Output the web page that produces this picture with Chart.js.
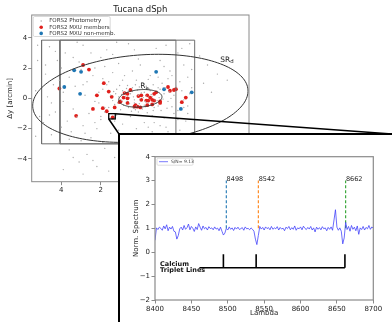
<!DOCTYPE html>
<html>
<head>
<meta charset="utf-8">
<script src="https://cdn.jsdelivr.net/npm/chart.js@4.4.1/dist/chart.umd.min.js"></script>
<style>
  html, body { margin: 0; padding: 0; background: #fff; }
  #page { position: relative; width: 392px; height: 322px; overflow: hidden; }
  #mainChart { position: absolute; left: 0; top: 0; }
  #insetBox { position: absolute; left: 118px; top: 133px; width: 274px; height: 189px; box-sizing: border-box;
              border-left: 2px solid #000; border-top: 2px solid #000; background: #fff; }
  #insetChart { display: block; }
</style>
</head>
<body>
<div id="page">
  <canvas id="mainChart" width="392" height="322"></canvas>
  <div id="insetBox"><canvas id="insetChart" width="272" height="187"></canvas></div>
</div>
<script>
// ---- Tucana dSph field (offsets in arcmin) ----
const photometry = [
  [0.1,0.2],[0.3,-0.1],[-0.2,0.4],[0.5,0.3],[-0.4,-0.3],[0.7,-0.2],[-0.6,0.1],[0.2,-0.5],[-0.1,-0.7],[0.9,0.5],
  [-0.9,-0.5],[1.1,0.1],[-1.2,0.3],[0.4,0.7],[-0.3,0.8],[0.6,-0.6],[-0.7,-0.6],[1.3,-0.4],[-1.4,-0.2],[0.0,0.0],
  [0.15,0.55],[-0.45,0.6],[0.85,-0.45],[-0.85,0.45],[1.0,-0.75],[-1.05,-0.8],[0.35,0.1],[-0.25,-0.2],[0.55,-0.35],[-0.55,0.25],
  [0.75,0.15],[-0.75,-0.1],[1.2,0.6],[-1.25,0.7],[0.05,-0.35],[-0.05,0.35],[0.45,-0.85],[-0.35,-0.95],[0.25,0.9],[-0.15,1.0],
  [1.5,0.2],[-1.55,0.0],[1.6,-0.6],[-1.6,-0.55],[0.65,0.85],[-0.65,0.9],[0.95,-0.15],[-0.95,0.05],[1.35,0.45],[-1.35,-0.65],
  [0.3,-0.3],[-0.3,0.15],[0.8,0.35],[-0.8,-0.3],[0.1,-0.9],[-0.1,0.65],[1.05,0.85],[-1.1,1.0],[0.6,0.5],[-0.5,-0.45],
  [1.7,0.9],[-1.8,0.8],[1.8,-0.9],[-1.7,-1.0],[0.2,1.2],[-0.4,1.25],[0.5,-1.2],[-0.6,-1.15],[1.2,-1.1],[-1.2,-1.3],
  [0.4,0.45],[-0.2,-0.45],[0.7,0.65],[-0.9,0.7],[1.15,-0.3],[-1.15,-0.05],[0.25,-0.75],[-0.5,0.5],[0.95,0.25],[-0.65,-0.8],
  [1.4,-0.15],[-1.45,0.45],[0.05,0.75],[-0.25,-0.55],[0.55,0.05],[-0.85,-0.15],[1.25,0.3],[-1.0,0.6],[0.35,-0.65],[-0.15,0.05],
  [2.1,0.4],[-2.1,0.5],[2.3,-0.2],[-2.2,-0.6],[1.9,1.3],[-1.6,1.5],[2.0,-1.2],[-1.9,-1.4],[0.8,1.5],[-0.7,-1.6],
  [4.6,3.4],[3.8,3.0],[2.9,3.5],[1.7,3.2],[0.6,3.6],[-0.8,3.3],[-1.9,3.0],[-2.5,3.6],[4.2,2.5],[3.1,2.4],
  [2.0,2.7],[1.1,2.3],[0.1,2.6],[-1.0,2.5],[-2.2,2.2],[4.8,1.6],[3.6,1.4],[2.4,1.5],[1.4,1.7],[0.4,1.8],
  [-0.5,1.5],[-1.5,1.8],[-2.4,1.4],[4.4,0.9],[3.3,0.8],[2.7,1.1],[1.9,0.6],[-2.0,1.1],[-2.6,0.7],[4.7,0.1],
  [3.9,-0.2],[2.8,0.2],[2.1,-0.3],[-2.2,-0.1],[-2.5,0.3],[4.3,-0.9],[3.4,-0.7],[2.6,-1.0],[1.8,-0.6],[-1.9,-0.8],
  [-2.4,-0.5],[4.9,-1.6],[3.7,-1.5],[2.9,-1.8],[2.0,-1.4],[0.9,-1.7],[-0.2,-1.6],[-1.3,-1.9],[-2.3,-1.5],[4.5,-2.4],
  [3.5,-2.2],[2.5,-2.6],[1.5,-2.3],[0.5,-2.5],[-0.6,-2.2],[-1.6,-2.6],[-2.6,-2.3],[4.1,-2.9],[3.0,-2.8],[1.9,-2.9],
  [0.7,-2.8],[-0.9,-2.9],[-2.0,-2.8],[3.2,3.7],[1.2,3.7],[-0.3,2.9],[2.3,2.0],[-1.8,2.6],[0.9,1.2],[-0.9,1.4],
  [1.6,1.1],[-1.4,1.3],[2.2,-2.0],[-0.4,-1.9],[1.1,-2.1],[3.9,0.4],[4.0,2.0],[4.5,-0.3],[2.5,3.0],[-1.2,-2.4],
  [4.3,3.1],[3.4,2.7],[2.6,2.3],[1.4,2.9],[0.3,3.2],[-1.3,3.5],[-2.1,3.3],[4.8,2.2],[3.0,1.9],[1.8,2.1],
  [0.0,2.2],[-1.2,2.1],[-2.6,1.9],[4.1,1.2],[2.9,0.9],[-1.7,0.2],[-2.4,-1.0],[4.6,-1.1],[3.2,-1.2],[2.3,-1.6],
  [1.3,-1.5],[0.2,-2.0],[-1.0,-1.8],[-2.0,-2.1],[4.0,-1.9],[2.8,-2.3],[1.0,-2.6],[-0.2,-2.7],[-1.4,-2.2],[3.6,-2.7],
  [3.6,-3.4],[2.7,-3.7],[1.8,-3.3],[3.1,-4.2],[2.2,-4.5],[1.3,-3.9],[3.9,-4.7],[2.9,-5.0],[1.6,-4.8],[0.9,-4.4],
  [3.4,-3.9],[2.4,-4.1],[0.6,-3.6],[5.2,2.5],[5.3,0.5],[5.1,-1.2],[5.3,-2.5],[5.2,3.5],
  [-3.0,2.8],[-3.4,2.2],[-3.9,1.6],[-3.2,1.0],[-4.2,2.6],[-3.6,0.4],[-4.4,1.2]
];
const members = [
  [2.9,2.2],[2.6,1.9],[4.1,0.65],[1.85,1.0],[1.6,0.45],[2.2,0.2],[1.45,0.1],[2.4,-0.7],[1.9,-0.65],[1.7,-0.85],
  [1.3,-0.6],[3.25,-1.15],[1.4,-1.25],[1.05,-0.25],[0.5,0.55],[0.8,0.35],[0.65,0.3],[0.85,0.05],[0.65,0.0],[1.0,-0.2],
  [0.65,-0.3],[0.1,0.15],[-0.05,0.2],[-0.35,0.2],[-0.7,0.3],[-0.8,0.4],[-0.5,0.05],[-0.05,-0.1],[-0.3,-0.15],[-0.4,-0.15],
  [-0.6,-0.1],[-0.7,-0.15],[-1.0,-0.2],[0.25,-0.45],[0.15,-0.55],[0.3,-0.55],[0.0,-0.6],[-0.35,-0.45],[-0.6,-0.4],[-1.4,0.75],
  [-1.5,0.5],[-1.7,0.55],[-1.8,0.6],[-2.3,0.05],[-2.1,-0.25],[-1.0,-0.3]
];
const nonMembers = [
  [3.35,1.85],[3.0,1.75],[3.85,0.75],[3.05,0.3],[-0.8,1.75],[-1.2,0.6],[-2.6,0.4],[-2.05,-0.7]
];
// FORS2 pointings: x0, x1, y0, y1
const fieldX0 = [5.0, 4.07];
const fieldX1 = [-1.8, -2.75];
const fieldY0 = [-3.0, -3.0];
const fieldY1 = [3.84, 3.84];
// half-light ellipse and search region
const ellipseA = [1.1, 5.48];
const ellipseB = [0.57, 2.85];
const ellipseAngle = -7;
const zoomBox = [1.6, 1.27, -1.01, -1.36];
const mainTicks = [-4, -2, 0, 2, 4];

// ---- spectrum ----
const lambda = [
  8400,8402,8404,8406,8408,8410,8412,8414,8416,8418,8420,8422,8424,8426,8428,8430,8432,8434,8436,8438,
  8440,8442,8444,8446,8448,8450,8452,8454,8456,8458,8460,8462,8464,8466,8468,8470,8472,8474,8476,8478,
  8480,8482,8484,8486,8488,8490,8492,8494,8496,8498,8500,8502,8504,8506,8508,8510,8512,8514,8516,8518,
  8520,8522,8524,8526,8528,8530,8532,8534,8536,8538,8540,8542,8544,8546,8548,8550,8552,8554,8556,8558,
  8560,8562,8564,8566,8568,8570,8572,8574,8576,8578,8580,8582,8584,8586,8588,8590,8592,8594,8596,8598,
  8600,8602,8604,8606,8608,8610,8612,8614,8616,8618,8620,8622,8624,8626,8628,8630,8632,8634,8636,8638,
  8640,8642,8644,8646,8648,8650,8652,8654,8656,8658,8660,8662,8664,8666,8668,8670,8672,8674,8676,8678,
  8680,8682,8684,8686,8688,8690,8692,8694,8696,8698,8700
];
const flux = [
  0.50,1.02,0.95,1.05,1.00,0.92,1.10,0.98,1.15,0.90,1.05,0.97,1.08,0.88,0.85,0.55,0.70,0.98,1.05,0.93,
  1.12,0.96,1.03,1.18,0.94,1.08,1.00,0.87,1.06,0.95,1.20,1.05,0.92,1.10,0.98,1.04,0.93,1.07,0.99,1.02,
  0.94,1.06,0.97,1.01,0.90,1.05,0.88,0.72,0.80,1.00,0.93,1.06,0.96,1.02,0.91,1.04,0.97,1.05,0.95,0.99,
  1.03,0.92,1.06,0.98,1.00,0.94,1.02,0.96,0.88,0.55,0.32,0.70,1.08,0.97,1.04,0.93,1.06,0.99,1.03,0.94,
  1.08,0.96,1.02,0.98,1.07,0.93,1.04,0.97,1.01,0.90,1.05,0.99,1.08,0.94,1.03,0.96,1.10,0.92,1.02,0.98,
  1.06,0.94,1.09,1.00,0.95,1.04,0.97,1.08,0.93,1.02,0.85,1.05,0.96,1.03,0.94,1.07,0.98,1.02,0.90,1.04,
  0.96,1.06,0.92,1.35,1.78,1.05,0.92,1.02,0.88,0.35,0.60,1.25,0.95,1.08,0.88,1.12,0.96,1.05,0.90,1.10,
  0.75,1.02,0.95,1.08,0.93,1.04,0.98,1.12,0.96,1.06,1.00
];
const caLines = [8498, 8542, 8662];
const caColors = ["#1f77b4", "#ff7f0e", "#2ca02c"];
const tripletMarks = [8494, 8539, 8661];
const tripletStart = 8461;
const tripletBase = -0.65;
const tripletTop = -0.08;

const FAMILY = "'DejaVu Sans', sans-serif";
const minus = v => String(v).replace("-", "\u2212");
const toXY = arr => arr.map(p => ({ x: p[0], y: p[1] }));

function subLabel(ctx, base, sub, x, y, size) {
  ctx.textAlign = "left";
  ctx.textBaseline = "alphabetic";
  ctx.font = size + "px " + FAMILY;
  ctx.fillText(base, x, y);
  const w = ctx.measureText(base).width;
  ctx.font = (size * 0.72) + "px " + FAMILY;
  ctx.fillText(sub, x + w, y + size * 0.25);
}

// ellipses, labels, legend, zoom box and connector lines
const mainDecor = {
  id: "mainDecor",
  afterDatasetsDraw(chart) {
    const { ctx, chartArea: ca, scales: { x: xs, y: ys } } = chart;
    ctx.save();
    ctx.beginPath();
    ctx.rect(ca.left, ca.top, ca.right - ca.left, ca.bottom - ca.top);
    ctx.clip();
    ctx.strokeStyle = "#333";
    ctx.lineWidth = 1;
    const t = ellipseAngle * Math.PI / 180;
    ellipseA.forEach((a, i) => {
      const b = ellipseB[i];
      ctx.beginPath();
      for (let k = 0; k <= 160; k++) {
        const p = k / 160 * 2 * Math.PI;
        const dx = a * Math.cos(p) * Math.cos(t) - b * Math.sin(p) * Math.sin(t);
        const dy = a * Math.cos(p) * Math.sin(t) + b * Math.sin(p) * Math.cos(t);
        const px = xs.getPixelForValue(dx), py = ys.getPixelForValue(dy);
        if (k === 0) ctx.moveTo(px, py); else ctx.lineTo(px, py);
      }
      ctx.stroke();
    });
    ctx.fillStyle = "#222";
    subLabel(ctx, "R", "e", xs.getPixelForValue(0.0), ys.getPixelForValue(0.69), 7.5);
    subLabel(ctx, "SR", "d", xs.getPixelForValue(-4.05), ys.getPixelForValue(2.43), 7.5);
    ctx.restore();

    // frame
    ctx.save();
    ctx.strokeStyle = "#8a8a8a";
    ctx.lineWidth = 1;
    ctx.strokeRect(ca.left, ca.top, ca.right - ca.left, ca.bottom - ca.top);

    // title
    ctx.fillStyle = "#222";
    ctx.font = "8.5px " + FAMILY;
    ctx.textAlign = "center";
    ctx.textBaseline = "middle";
    ctx.fillText("Tucana dSph", (ca.left + ca.right) / 2, ca.top - 5);

    // legend
    const lx = ca.left + 1.5, ly = ca.top + 1.5, lw = 77, lh = 20;
    ctx.fillStyle = "rgba(255,255,255,0.85)";
    ctx.strokeStyle = "#cfcfcf";
    ctx.lineWidth = 0.8;
    ctx.beginPath();
    ctx.roundRect(lx, ly, lw, lh, 1.5);
    ctx.fill();
    ctx.stroke();
    const items = [
      ["FORS2 Photometry", "#b0b0b0", 0.8],
      ["FORS2 MXU members", "#e0201c", 1.8],
      ["FORS2 MXU non-memb.", "#1f77b4", 1.8]
    ];
    ctx.font = "5.5px " + FAMILY;
    ctx.textAlign = "left";
    items.forEach((it, i) => {
      const yy = ly + 4.5 + i * 6.2;
      ctx.fillStyle = it[1];
      ctx.beginPath();
      ctx.arc(lx + 8, yy, it[2], 0, Math.PI * 2);
      ctx.fill();
      ctx.fillStyle = "#333";
      ctx.fillText(it[0], lx + 16, yy);
    });

    // zoom box and connectors to the inset
    const bx0 = xs.getPixelForValue(zoomBox[0]), bx1 = xs.getPixelForValue(zoomBox[1]);
    const by0 = ys.getPixelForValue(zoomBox[2]), by1 = ys.getPixelForValue(zoomBox[3]);
    ctx.strokeStyle = "#000";
    ctx.lineWidth = 1.3;
    ctx.strokeRect(bx0, by0, bx1 - bx0, by1 - by0);
    const inset = document.getElementById("insetBox");
    const ix = inset.offsetLeft + 1, iy = inset.offsetTop + 1;
    ctx.lineWidth = 1.5;
    ctx.beginPath();
    ctx.moveTo(bx1, by0);
    ctx.lineTo(chart.width, iy);
    ctx.moveTo(bx0, by1);
    ctx.lineTo(ix, iy);
    ctx.stroke();
    ctx.restore();
  }
};

const fieldSets = fieldX0.map((x0, i) => ({
  type: "line",
  data: [
    { x: x0, y: fieldY0[i] }, { x: fieldX1[i], y: fieldY0[i] }, { x: fieldX1[i], y: fieldY1[i] },
    { x: x0, y: fieldY1[i] }, { x: x0, y: fieldY0[i] }
  ],
  borderColor: "#6e6e6e",
  borderWidth: 1,
  pointRadius: 0,
  fill: false
}));

new Chart(document.getElementById("mainChart"), {
  type: "scatter",
  data: {
    datasets: [
      { label: "FORS2 Photometry", data: toXY(photometry), pointRadius: 0.7, backgroundColor: "#aaaaaa", borderWidth: 0 },
      ...fieldSets,
      { label: "FORS2 MXU members", data: toXY(members), pointRadius: 1.9, backgroundColor: "#e0201c", borderWidth: 0 },
      { label: "FORS2 MXU non-memb.", data: toXY(nonMembers), pointRadius: 1.9, backgroundColor: "#1f77b4", borderWidth: 0 }
    ]
  },
  options: {
    responsive: false,
    animation: false,
    devicePixelRatio: 1,
    layout: { padding: { left: 0, top: 15, right: 143, bottom: 120 } },
    plugins: { legend: { display: false }, tooltip: { enabled: false } },
    scales: {
      x: {
        type: "linear", reverse: true, min: -5.5, max: 5.5,
        afterBuildTicks: s => { s.ticks = mainTicks.map(v => ({ value: v })); },
        afterFit: s => { s.height = 20.3; },
        grid: { drawOnChartArea: false, tickLength: 3.5, color: "#8a8a8a" },
        border: { display: false },
        ticks: { font: { size: 7, family: FAMILY }, color: "#222", padding: 1, callback: minus }
      },
      y: {
        type: "linear", min: -5.5, max: 5.5,
        afterBuildTicks: s => { s.ticks = mainTicks.map(v => ({ value: v })); },
        afterFit: s => { s.width = 31.7; },
        grid: { drawOnChartArea: false, tickLength: 3.5, color: "#8a8a8a" },
        border: { display: false },
        ticks: { font: { size: 7, family: FAMILY }, color: "#222", padding: 1, callback: minus },
        title: { display: true, text: "\u0394y [arcmin]", font: { size: 7, family: FAMILY }, color: "#222", padding: { top: 6, bottom: 0 } }
      }
    }
  },
  plugins: [mainDecor]
});

// ---- inset spectrum ----
const insetDecor = {
  id: "insetDecor",
  afterDatasetsDraw(chart) {
    const { ctx, chartArea: ca, scales: { x: xs, y: ys } } = chart;
    ctx.save();
    ctx.strokeStyle = "#8a8a8a";
    ctx.lineWidth = 1.2;
    ctx.strokeRect(ca.left, ca.top, ca.right - ca.left, ca.bottom - ca.top);

    ctx.fillStyle = "#222";
    ctx.font = "6.5px " + FAMILY;
    ctx.textAlign = "left";
    ctx.textBaseline = "alphabetic";
    caLines.forEach(l => ctx.fillText(String(l), xs.getPixelForValue(l) + 0.3, ys.getPixelForValue(3) + 0.5));

    ctx.font = "bold 6.5px " + FAMILY;
    ctx.textBaseline = "middle";
    ctx.fillStyle = "#111";
    ctx.fillText("Calcium", xs.getPixelForValue(8407), ys.getPixelForValue(-0.49));
    ctx.fillText("Triplet Lines", xs.getPixelForValue(8407), ys.getPixelForValue(-0.76));

    // legend
    const lx = ca.left + 2, ly = ca.top + 1.5;
    ctx.fillStyle = "#fff";
    ctx.strokeStyle = "#d0d0d0";
    ctx.lineWidth = 0.7;
    ctx.beginPath();
    ctx.roundRect(lx, ly, 36, 7, 1);
    ctx.fill();
    ctx.stroke();
    ctx.strokeStyle = "rgba(70,70,250,0.8)";
    ctx.lineWidth = 0.9;
    ctx.beginPath();
    ctx.moveTo(lx + 2, ly + 3.5);
    ctx.lineTo(lx + 11, ly + 3.5);
    ctx.stroke();
    ctx.fillStyle = "#333";
    ctx.font = "4.5px " + FAMILY;
    ctx.fillText("S/N= 9.13", lx + 14, ly + 3.7);
    ctx.restore();
  }
};

const blackSeg = pts => ({ data: pts, borderColor: "#000", borderWidth: 1.6, pointRadius: 0, fill: false });

new Chart(document.getElementById("insetChart"), {
  type: "line",
  data: {
    datasets: [
      { label: "S/N= 9.13", data: lambda.map((l, i) => ({ x: l, y: flux[i] })), borderColor: "rgba(60,60,250,0.85)",
        borderWidth: 0.9, pointRadius: 0, fill: false, tension: 0 },
      ...caLines.map((l, i) => ({ data: [{ x: l, y: 1 }, { x: l, y: 3 }], borderColor: caColors[i], borderDash: [3, 2],
        borderWidth: 1.1, pointRadius: 0, fill: false })),
      blackSeg([{ x: tripletStart, y: tripletBase }, { x: tripletMarks[2], y: tripletBase }]),
      ...tripletMarks.map(l => blackSeg([{ x: l, y: tripletBase }, { x: l, y: tripletTop }]))
    ]
  },
  options: {
    responsive: false,
    animation: false,
    devicePixelRatio: 1,
    layout: { padding: { left: 0, top: 21.7, right: 18.7, bottom: 0 } },
    plugins: { legend: { display: false }, tooltip: { enabled: false } },
    scales: {
      x: {
        type: "linear", min: 8400, max: 8700,
        ticks: { stepSize: 50, font: { size: 7, family: FAMILY }, color: "#222", padding: 1, callback: v => String(v) },
        afterFit: s => { s.height = 22; },
        grid: { drawOnChartArea: false, tickLength: 3.5, color: "#8a8a8a" },
        border: { display: false },
        title: { display: true, text: "Lambda", font: { size: 7, family: FAMILY }, color: "#222", padding: { top: 0, bottom: 5 } }
      },
      y: {
        type: "linear", min: -2, max: 4,
        ticks: { stepSize: 1, font: { size: 7, family: FAMILY }, color: "#222", padding: 1.5, callback: minus },
        afterFit: s => { s.width = 35; },
        grid: { drawOnChartArea: false, tickLength: 3.5, color: "#8a8a8a" },
        border: { display: false },
        title: { display: true, text: "Norm. Spectrum", font: { size: 7, family: FAMILY }, color: "#222", padding: { top: 12, bottom: 0 } }
      }
    }
  },
  plugins: [insetDecor]
});
</script>
</body>
</html>
